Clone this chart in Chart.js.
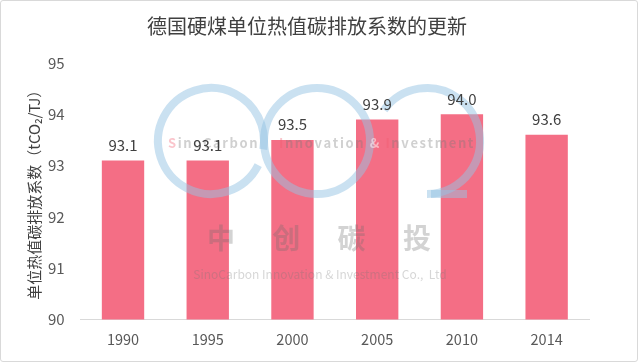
<!DOCTYPE html>
<html>
<head>
<meta charset="utf-8">
<script src="https://cdn.jsdelivr.net/npm/chart.js@4.4.1/dist/chart.umd.min.js"></script>
<style>
  body { margin: 0; background: #fff; }
  #caixa { width: 638px; height: 362px; box-sizing: border-box; border: 1px solid #d9d9d9; border-radius: 3px; position: relative; }
</style>
</head>
<body>
<div id="caixa"><canvas id="grafico"></canvas></div>
<script>
var anos = ["1990", "1995", "2000", "2005", "2010", "2014"];
var fatores = [93.1, 93.1, 93.5, 93.9, 94.0, 93.6];
var tituloGrafico = "德国硬煤单位热值碳排放系数的更新";
var tituloEixoY = "单位热值碳排放系数（tCO₂/TJ）";

var fonte = '"Noto Sans CJK SC", "Noto Sans", sans-serif';

// marca d'agua do fundo
var marcaDagua = {
  id: "marcaDagua",
  afterDatasetsDraw: function (chart) {
    var ctx = chart.ctx;
    ctx.save();
    ctx.strokeStyle = "rgba(150, 195, 228, 0.5)";
    ctx.lineWidth = 8;
    ctx.beginPath(); ctx.arc(210, 140, 53, 0.15 * Math.PI, 2.05 * Math.PI); ctx.stroke();
    ctx.beginPath(); ctx.arc(316, 140, 53, 0, 2 * Math.PI); ctx.stroke();
    ctx.beginPath(); ctx.arc(426, 140, 53, -0.8 * Math.PI, 0.5 * Math.PI); ctx.stroke();
    ctx.beginPath(); ctx.moveTo(430, 193); ctx.lineTo(466, 193); ctx.stroke();

    ctx.textBaseline = "middle";
    ctx.font = "bold 13px " + fonte;
    var x = 167;
    function escrever(txt, cor) {
      ctx.fillStyle = cor;
      for (var i = 0; i < txt.length; i++) {
        ctx.fillText(txt[i], x, 142);
        x += ctx.measureText(txt[i]).width + 1.6;
      }
    }
    escrever("S", "rgba(240,90,110,0.35)");
    escrever("inoCarbon", "rgba(120,120,120,0.35)");
    x = 278;
    escrever("I", "rgba(240,90,110,0.35)");
    escrever("nnovation ", "rgba(120,120,120,0.35)");
    escrever("& ", "rgba(255,255,255,0.5)");
    escrever("I", "rgba(240,90,110,0.35)");
    escrever("nvestment", "rgba(120,120,120,0.35)");

    ctx.font = "bold 28px " + fonte;
    ctx.fillStyle = "rgba(110,110,110,0.3)";
    ctx.textAlign = "center";
    var chars = ["中", "创", "碳", "投"];
    for (var j = 0; j < chars.length; j++) {
      ctx.fillText(chars[j], 220 + j * 65.3, 237);
    }
    ctx.font = "12px " + fonte;
    ctx.fillStyle = "rgba(120,120,120,0.3)";
    ctx.fillText("SinoCarbon Innovation & Investment Co.,  Ltd", 319, 273);
    ctx.restore();
  }
};

// valores em cima das barras
var rotulos = {
  id: "rotulos",
  afterDatasetsDraw: function (chart) {
    var ctx = chart.ctx;
    var meta = chart.getDatasetMeta(0);
    ctx.save();
    ctx.font = "15px " + fonte;
    ctx.fillStyle = "#404040";
    ctx.textAlign = "center";
    ctx.textBaseline = "bottom";
    for (var i = 0; i < meta.data.length; i++) {
      var barra = meta.data[i];
      ctx.fillText(fatores[i].toFixed(1), barra.x, barra.y - 8);
    }
    ctx.restore();
  }
};

new Chart(grafico.getContext("2d"), {
  type: "bar",
  data: {
    labels: anos,
    datasets: [{
      data: fatores,
      backgroundColor: "#f46e85",
      barPercentage: 0.5,
      categoryPercentage: 1
    }]
  },
  options: {
    responsive: true,
    maintainAspectRatio: false,
    animation: false,
    layout: { padding: { left: 24, right: 48, top: 0, bottom: 10 } },
    plugins: {
      legend: { display: false },
      tooltip: { enabled: false },
      title: {
        display: true,
        text: tituloGrafico,
        color: "#404040",
        font: { family: fonte, size: 20, weight: "normal" },
        padding: { top: 13, bottom: 25 }
      }
    },
    scales: {
      y: {
        min: 90,
        max: 95,
        ticks: { stepSize: 1, color: "#595959", font: { family: fonte, size: 15 }, padding: 8 },
        grid: { display: false },
        border: { display: false },
        title: {
          display: true,
          text: tituloEixoY,
          color: "#404040",
          font: { family: fonte, size: 15 },
          padding: { top: 0, bottom: -3 }
        }
      },
      x: {
        ticks: { color: "#595959", font: { family: fonte, size: 14.5 }, padding: 3 },
        grid: { display: false },
        border: { color: "#d9d9d9" }
      }
    }
  },
  plugins: [marcaDagua, rotulos]
});
</script>
</body>
</html>
